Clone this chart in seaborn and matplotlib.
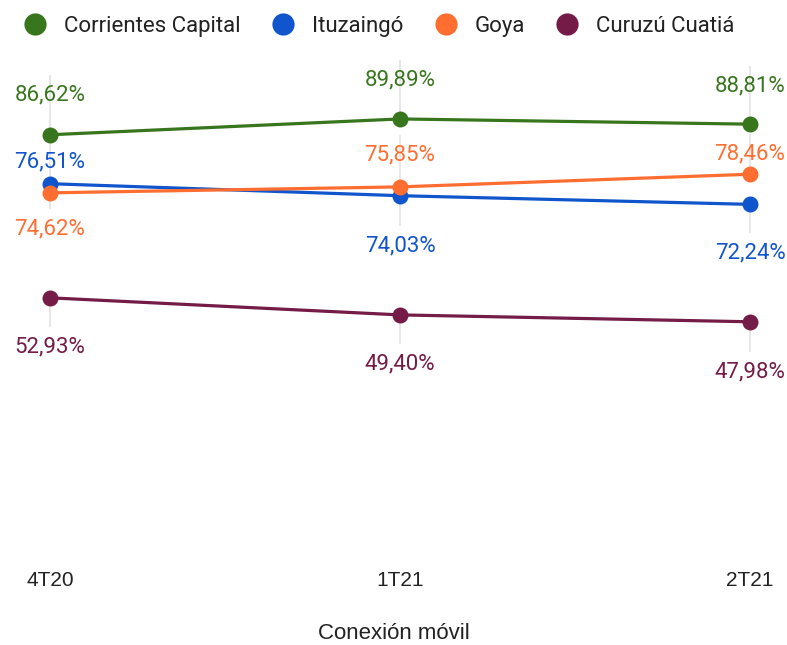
import matplotlib
matplotlib.use('Agg')
import matplotlib.pyplot as plt
from matplotlib.lines import Line2D
import seaborn as sns
import pandas as pd

# Data
periodos = ["4T20", "1T21", "2T21"]
series = ["Corrientes Capital", "Ituzaingó", "Goya", "Curuzú Cuatiá"]
corrientes = [86.62, 89.89, 88.81]
ituzaingo = [76.51, 74.03, 72.24]
goya = [74.62, 75.85, 78.46]
curuzu = [52.93, 49.40, 47.98]
colores = ["#38761d", "#1155cc", "#ff6d31", "#741b47"]

# label offsets in pixels (positive = above), and whether a leader line is shown
label_dy = [
    [40, 39, 38],
    [22, -50, -49],
    [-36, 32, 20],
    [-49, -49, -50],
]
leader = [
    [False, False, False],
    [False, True, True],
    [False, False, False],
    [True, True, True],
]

valores = [corrientes, ituzaingo, goya, curuzu]
df = pd.DataFrame({
    "periodo": periodos * len(series),
    "serie": [s for s in series for _ in periodos],
    "valor": [v for vals in valores for v in vals],
})

sns.set_style("white")
plt.rcParams['font.family'] = ['Roboto', 'DejaVu Sans']
narrow = ['Liberation Sans Narrow', 'Liberation Sans', 'DejaVu Sans']

# layout in pixels: plot area spans the full width, zero line at y=554
W, H = 787, 645
AX_TOP, AX_BOT = 20, 554
PX_UNIT = 4.84   # pixels per percentage point
PX_CAT = 350     # pixels between categories
X0 = 50          # pixel of first category

fig = plt.figure(figsize=(W / 100, H / 100), dpi=100)
ax = fig.add_axes([0, (H - AX_BOT) / H, 1, (AX_BOT - AX_TOP) / H])

# leader lines first, so they sit under the series
for vals, dys, lds in zip(valores, label_dy, leader):
    for i, v in enumerate(vals):
        if lds:
            end = v + (dys[i] + 20) / PX_UNIT
            ax.vlines(i, end, v, colors="#e3e3e3", linewidth=1.2)

sns.lineplot(data=df, x="periodo", y="valor", hue="serie", hue_order=series,
             palette=colores, marker="o", markersize=11.5, markeredgewidth=0,
             linewidth=2.3, legend=False, errorbar=None, ax=ax, zorder=5)

px_pt = 0.72  # pixel -> point at 100 dpi
for vals, col, dys in zip(valores, colores, label_dy):
    for i, v in enumerate(vals):
        txt = f"{v:.2f}%".replace(".", ",")
        ax.annotate(txt, xy=(i, v), xytext=(0, dys[i] * px_pt), textcoords="offset points",
                    ha="center", va="center", fontsize=16, color=col,
                    annotation_clip=False)

ax.set_xlim(-X0 / PX_CAT, (W - X0) / PX_CAT)
ax.set_ylim(0, (AX_BOT - AX_TOP) / PX_UNIT)
ax.set_yticks([])
ax.grid(False)
for sp in ax.spines.values():
    sp.set_visible(False)
ax.tick_params(axis="x", length=0, pad=12)
for lab in ax.get_xticklabels():
    lab.set_fontfamily(narrow)
    lab.set_fontsize(15)
    lab.set_color("#222222")
ax.set_ylabel("")
ax.set_xlabel("Conexión móvil", fontsize=16, color="#222222", labelpad=24,
              fontfamily=narrow)

handles = [Line2D([0], [0], marker="o", color="none", markerfacecolor=c,
                  markeredgewidth=0, markersize=16) for c in colores]
fig.legend(handles, series, loc="upper center", bbox_to_anchor=(0.482, 1.006),
           ncol=4, frameon=False, fontsize=16, handlelength=1.0,
           handletextpad=0.8, columnspacing=1.4, labelcolor="#222222")

fig.savefig("out.png", dpi=100, facecolor="white")
